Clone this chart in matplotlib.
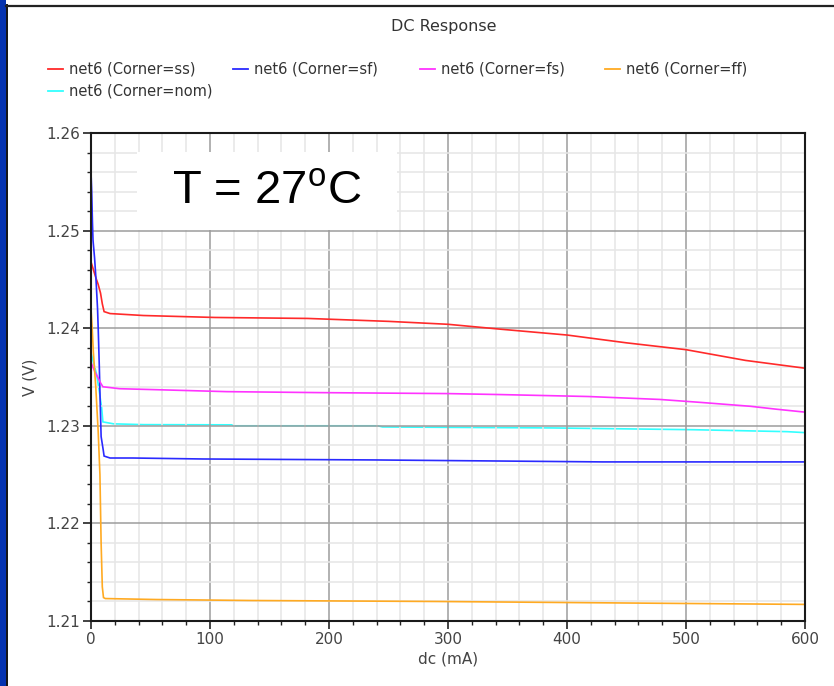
import matplotlib
matplotlib.use("Agg")
import matplotlib.pyplot as plt
from matplotlib.ticker import MultipleLocator, FormatStrFormatter
from matplotlib.patches import Rectangle
from matplotlib.lines import Line2D

# ---------------- data ----------------
labels = ["net6 (Corner=ss)", "net6 (Corner=sf)", "net6 (Corner=fs)",
          "net6 (Corner=ff)", "net6 (Corner=nom)"]
colors = ["#ff2a2a", "#2a2aff", "#ff33ff", "#ffaa22", "#33ffff"]

ss_x = [0, 2, 4, 6, 8, 9.5, 11, 16, 44, 104, 182, 250, 300, 344, 400, 450, 500, 550, 600]
ss_v = [1.2468, 1.2460, 1.2452, 1.2445, 1.2436, 1.2425, 1.2417, 1.2415, 1.2413, 1.2411,
        1.2410, 1.2407, 1.2404, 1.2399, 1.2393, 1.2385, 1.2378, 1.2367, 1.2359]

sf_x = [0, 0.6, 1.2, 1.7, 3, 4.2, 5.5, 6.1, 7, 7.6, 8.5, 10.3, 11, 16, 35, 94, 240, 430, 600]
sf_v = [1.2560, 1.2540, 1.2509, 1.2490, 1.2472, 1.2450, 1.2420, 1.2398, 1.2360, 1.2330,
        1.2289, 1.2275, 1.2269, 1.2267, 1.2267, 1.2266, 1.2265, 1.2263, 1.2263]

fs_x = [0, 3, 6, 8, 10, 24, 55, 114, 192, 300, 344, 418, 478, 512, 554, 576, 600]
fs_v = [1.2365, 1.2356, 1.2349, 1.2344, 1.2340, 1.2338, 1.2337, 1.2335, 1.2334, 1.2333,
        1.2332, 1.2330, 1.2327, 1.2324, 1.2320, 1.2317, 1.2314]

ff_x = [0, 1, 2, 4, 6, 7.5, 8.5, 9.5, 10.5, 12, 55, 135, 290, 495, 600]
ff_v = [1.2420, 1.2400, 1.2375, 1.2340, 1.2295, 1.2250, 1.2180, 1.2135, 1.2124, 1.2123,
        1.2122, 1.2121, 1.2120, 1.2118, 1.2117]

nom_x = [0, 2, 4.5, 7, 9, 10, 19, 44, 118, 120, 241, 245, 388, 506, 585, 600]
nom_v = [1.2375, 1.2365, 1.2354, 1.2335, 1.2318, 1.2304, 1.2302, 1.23012, 1.23010, 1.2300,
         1.2300, 1.22988, 1.22978, 1.2296, 1.2294, 1.2293]

series = [(ss_x, ss_v), (sf_x, sf_v), (fs_x, fs_v), (ff_x, ff_v), (nom_x, nom_v)]

x_ticks = [0, 100, 200, 300, 400, 500, 600]
y_ticks = [1.21, 1.22, 1.23, 1.24, 1.25, 1.26]

# ---------------- figure ----------------
W, H = 834, 686
fig = plt.figure(figsize=(W / 100, H / 100), dpi=100)
fig.patch.set_facecolor("white")

plt.rcParams["mathtext.fontset"] = "custom"
plt.rcParams["mathtext.rm"] = "Liberation Sans"

def px(x, y):
    return x / W, 1 - y / H

l, r, t, b = 91, 805, 133, 621
ax = fig.add_axes([l / W, 1 - b / H, (r - l) / W, (b - t) / H])

ax.set_xlim(0, 600)
ax.set_ylim(1.21, 1.26)
ax.set_xticks(x_ticks)
ax.set_yticks(y_ticks)
ax.yaxis.set_major_formatter(FormatStrFormatter("%.2f"))
ax.xaxis.set_minor_locator(MultipleLocator(20))
ax.yaxis.set_minor_locator(MultipleLocator(0.002))

ax.set_axisbelow("line")
ax.grid(which="major", color="#9c9c9c", linewidth=1.1)
ax.grid(which="minor", color="#e6e6e6", linewidth=1.1)

for sp in ax.spines.values():
    sp.set_color("#1a1a1a")
    sp.set_linewidth(1.5)

ax.tick_params(which="major", length=6, width=1.2, color="#222222",
               labelsize=11, labelcolor="#444444", pad=2)
ax.tick_params(which="minor", length=3, width=1.0, color="#222222")

for i, ((xs, vs), c) in enumerate(zip(series, colors)):
    z = 1.0 if i == 4 else 2.0
    ax.plot(xs, vs, color=c, linewidth=1.2, zorder=z, solid_joinstyle="miter")

ax.set_xlabel("dc (mA)", fontsize=11, color="#444444", labelpad=3)
ax.set_ylabel("V (V)", fontsize=11, color="#444444", labelpad=6)

# temperature annotation box
ax.add_patch(Rectangle((0.0644, 0.8012), 0.3642, 0.1598, transform=ax.transAxes,
                       facecolor="white", edgecolor="none", zorder=3))
ax.text(0.2465, 0.881, r"T = 27$^{\mathrm{o}}$C", transform=ax.transAxes,
        ha="center", va="center", fontsize=34, family="Liberation Sans",
        color="black", zorder=4)

# title
fig.text(*px(444, 26), "DC Response", ha="center", va="center", fontsize=11.5,
         color="#333333")

# legend (manual layout)
col_x = [48, 233, 420, 605]
row_y = [69, 91]
for i, (lab, c) in enumerate(zip(labels, colors)):
    cx = col_x[i % 4]
    cy = row_y[i // 4]
    x0, y0 = px(cx, cy)
    x1, _ = px(cx + 15, cy)
    fig.add_artist(Line2D([x0, x1], [y0, y0], color=c, linewidth=1.3))
    fig.text(*px(cx + 21, cy), lab, ha="left", va="center", fontsize=10.5,
             color="#333333")

# window frame
fig.add_artist(Rectangle((0, 0), 5.5 / W, 1, transform=fig.transFigure,
                         facecolor="#0533b0", edgecolor="none"))
fig.add_artist(Line2D([7.2 / W, 7.2 / W], [0, 1 - 5 / H], color="#111111", linewidth=1.4))
fig.add_artist(Line2D([5.5 / W, 1], [1 - 6 / H, 1 - 6 / H], color="#222222", linewidth=1.6))

fig.savefig("out.png", dpi=100)
